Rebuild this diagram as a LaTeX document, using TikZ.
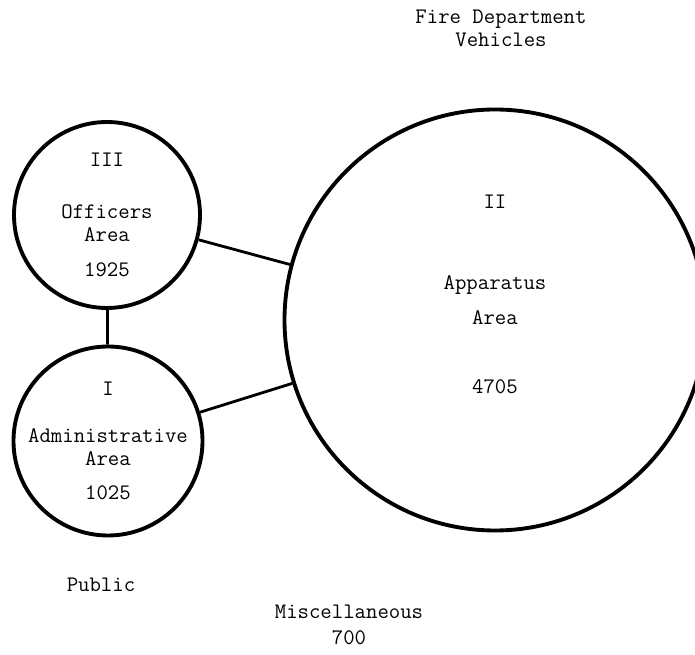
\documentclass[tikz,border=0pt]{standalone}

\begin{document}
\begin{tikzpicture}[area/.style = {draw, circle, line width=2.2pt, inner sep=0pt},
    link/.style = {line width=1.6pt},
    txt/.style = {align=center, font=\ttfamily\fontsize{12.6}{13}\selectfont}]
    \clip (0,0) rectangle (13.9,13.1);

    % the three areas
    \node[area, minimum size=3.72cm] (off) at (2.14,8.80) {};
    \node[area, minimum size=3.78cm] (adm) at (2.16,4.28) {};
    \node[area, minimum size=8.42cm] (app) at (9.90,6.70) {};

    \node[txt] at (off) {III\\[0.58cm]Officers\\Area\\[0.24cm]1925};
    \node[txt] at (adm) {I\\[0.48cm]Administrative\\Area\\[0.22cm]1025};
    \node[txt] at ([yshift=0.51cm]app.center) {II\\[1.16cm]Apparatus\\[0.24cm]Area\\[0.92cm]4705};

    \draw[link] (off) -- (adm);
    \draw[link] (off) -- (app);
    \draw[link] (adm) -- (app);

    % outside the areas
    \node[txt] (veh) at (10.02,12.53) {Fire Department\\Vehicles};
    \node[txt] (pub) at (2.02,1.40) {Public};
    \node[txt] (misc) at (6.98,0.60) {Miscellaneous\\[0.06cm]700};
\end{tikzpicture}
\end{document}
